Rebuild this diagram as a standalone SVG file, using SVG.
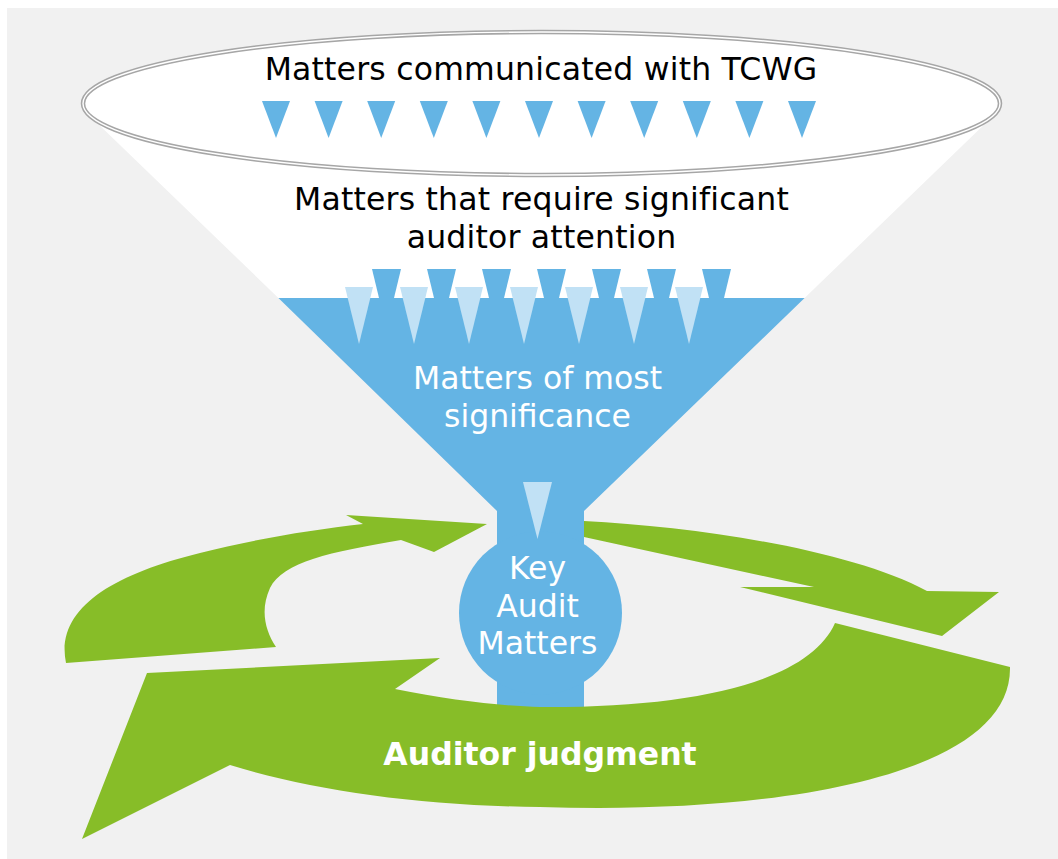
<svg xmlns="http://www.w3.org/2000/svg" width="1058" height="859" viewBox="0 0 1058 859">
<style>
.blue{fill:#64b4e4}
.lite{fill:#c1e1f5}
.green{fill:#87bd28}
.dk{font-family:"DejaVu Sans","Verdana","Liberation Sans",sans-serif;font-size:31.5px;letter-spacing:0.2px;fill:#000;text-anchor:middle}
.wt{font-family:"DejaVu Sans","Verdana","Liberation Sans",sans-serif;font-size:31.5px;fill:#fff;text-anchor:middle}
.bold{font-family:"DejaVu Sans","Verdana","Liberation Sans",sans-serif;font-size:31.5px;font-weight:bold;fill:#fff;text-anchor:middle}
</style>
<defs>
<polygon id="t1" points="-14,0 14,0 0,37"/>
<polygon id="t2" points="-14.5,0 14.5,0 0,60"/>
<polygon id="t3" points="-14,0 14,0 0,57"/>
</defs>
<rect x="7" y="8" width="1051" height="851" fill="#f1f1f1"/>
<g id="funnel-top">
<polygon points="88.9,114.9 994.1,114.9 804.6,298 278.4,298" fill="#fff"/>
<ellipse cx="541.5" cy="103.5" rx="458.5" ry="71.5" fill="#fff" stroke="#a6a6a6" stroke-width="4.5"/>
<ellipse cx="541.5" cy="103.5" rx="458.5" ry="71.5" fill="none" stroke="#fff" stroke-width="1.4"/>
<g class="blue">
<use href="#t1" x="276" y="101"/><use href="#t1" x="328.6" y="101"/><use href="#t1" x="381.2" y="101"/><use href="#t1" x="433.8" y="101"/><use href="#t1" x="486.4" y="101"/><use href="#t1" x="539" y="101"/><use href="#t1" x="591.6" y="101"/><use href="#t1" x="644.2" y="101"/><use href="#t1" x="696.8" y="101"/><use href="#t1" x="749.4" y="101"/><use href="#t1" x="802" y="101"/>
</g>
<text class="dk" x="541" y="80">Matters communicated with TCWG</text>
</g>
<g id="funnel-middle">
<g class="blue">
<use href="#t2" x="386.5" y="269"/><use href="#t2" x="441.5" y="269"/><use href="#t2" x="496.5" y="269"/><use href="#t2" x="551.5" y="269"/><use href="#t2" x="606.5" y="269"/><use href="#t2" x="661.5" y="269"/><use href="#t2" x="716.5" y="269"/>
</g>
<text class="dk" x="541.5" y="210">Matters that require significant</text>
<text class="dk" x="541.5" y="248">auditor attention</text>
</g>
<g id="funnel-bottom">
<polygon class="blue" points="278.4,298 804.6,298 584,511 584,720 497,720 497,511"/>
<g class="lite">
<use href="#t3" x="359" y="287"/><use href="#t3" x="414" y="287"/><use href="#t3" x="469" y="287"/><use href="#t3" x="524" y="287"/><use href="#t3" x="579" y="287"/><use href="#t3" x="634" y="287"/><use href="#t3" x="689" y="287"/>
</g>
<text class="wt" x="537.5" y="389">Matters of most</text>
<text class="wt" x="537.5" y="427">significance</text>
</g>
<g id="key-audit-matters">
<circle class="blue" cx="540.5" cy="613" r="81.5"/>
<polygon class="lite" points="523,482 552,482 537.5,539"/>
<text class="wt" x="537.5" y="579">Key</text>
<text class="wt" x="537.5" y="617">Audit</text>
<text class="wt" x="537.5" y="654">Matters</text>
</g>
<g id="connectors">
<path class="green" d="M487,524 L434,552 L401,540 C330,552 283,562 270,588 C260,610 265,630 276,647 L66,663 C55,610 110,575 200,553 C250,540 310,530 363,524 L346,515 Z"/>
<path class="green" d="M584,521 C700,527 850,550 927,591 L999,592 L942,636 L740,587 L814,587 L584,537 Z"/>
<path class="green" d="M835,623 L1010,667 C1012,775 780,815 540,807 C420,806 310,790 230,765 L82,839 L147,673 L440,658 L395,689 C450,700 500,706 540,707 C700,708 810,680 835,623 Z"/>
</g>
<g id="auditor-judgment">
<text class="bold" x="540" y="765">Auditor judgment</text>
</g>
</svg>
